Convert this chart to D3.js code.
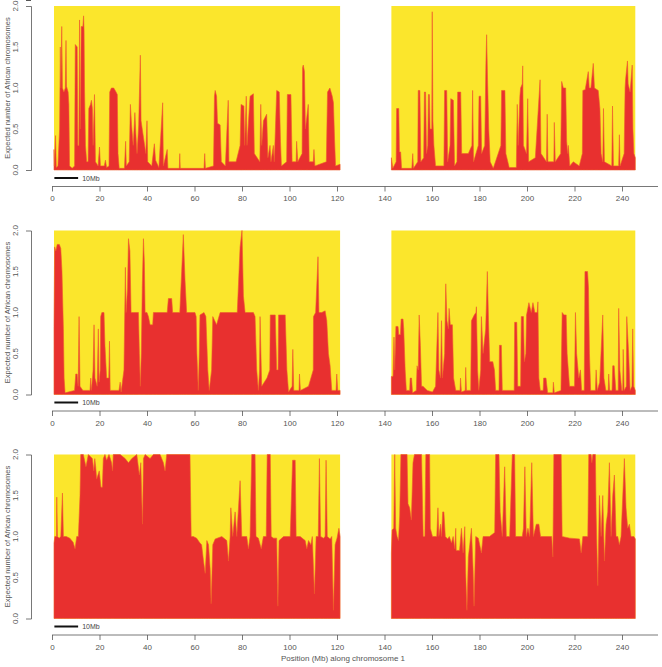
<!DOCTYPE html>
<html>
<head>
<meta charset="utf-8">
<script src="https://cdn.jsdelivr.net/npm/d3@7"></script>
<style>
  body { margin: 0; background: #fff; }
  text { font-family: "Liberation Sans", Arial, sans-serif; fill: #444; }
</style>
</head>
<body>
<script>
// chromosome arms (Mb) covered by data
var armLeft = [0.84, 121.3],
    armRight = [142.9, 245.6];

var xTicks = [0, 20, 40, 60, 80, 100, 120, 140, 160, 180, 200, 220, 240];
var yTicks = [0, 0.5, 1.0, 1.5, 2.0];

// [position Mb, expected number of African chromosomes]
var panel1Left = [[0.84,0.25],[1.0,0.05],[1.5,0.42],[1.8,0.03],[2.5,0.05],[3.2,0.5],[3.5,1.5],[3.7,1.0],[4.1,1.75],[4.4,1.0],[5.0,0.95],[5.6,1.0],[5.9,1.58],[6.1,1.02],[6.8,0.95],[7.1,0.8],[7.4,0.05],[8.5,0.02],[9.5,0.05],[9.8,1.53],[10.6,1.5],[10.9,0.3],[11.3,0.3],[11.6,1.83],[11.9,0.5],[12.3,1.75],[13.0,1.75],[13.3,1.88],[13.5,1.7],[13.7,1.0],[14.1,0.3],[14.6,0.1],[15.2,0.1],[15.5,0.75],[16.2,0.8],[16.6,0.85],[17.0,0.75],[17.3,0.3],[17.9,0.92],[18.3,0.1],[19.4,0.05],[20.0,0.28],[20.4,0.05],[22.0,0.05],[22.5,0.12],[23.0,0.03],[24.0,0.05],[24.3,0.95],[25.0,1.0],[26.0,1.0],[26.8,0.96],[27.5,0.92],[27.8,0.2],[28.3,0.02],[30.5,0.02],[31.0,0.35],[31.3,0.05],[32.5,0.1],[33.0,0.8],[33.5,0.55],[34.2,0.3],[34.9,0.7],[35.3,0.45],[35.8,0.2],[36.5,0.55],[37.2,1.4],[37.5,0.6],[38.0,0.5],[38.5,0.4],[39.5,0.2],[40.0,0.6],[40.3,0.1],[42.0,0.05],[43.1,0.32],[43.6,0.12],[45.0,0.03],[46.6,0.82],[46.9,0.05],[48.5,0.25],[48.8,0.02],[53.6,0.02],[53.8,0.2],[54.0,0.02],[64.0,0.02],[64.3,0.2],[64.6,0.02],[68.0,0.05],[68.4,0.9],[68.7,0.97],[69.3,0.9],[69.7,0.57],[70.8,0.55],[71.3,0.1],[73.0,0.05],[74.2,0.85],[74.5,0.1],[77.5,0.1],[79.2,0.3],[79.6,0.8],[80.8,0.78],[81.1,0.3],[81.8,0.9],[82.1,0.3],[83.4,0.9],[84.8,0.93],[85.2,0.2],[87.5,0.1],[87.9,0.8],[88.3,0.3],[89.0,0.6],[90.4,0.68],[90.9,0.15],[91.8,0.3],[92.2,0.1],[93.2,0.3],[93.6,0.1],[94.6,0.97],[95.7,0.95],[96.2,0.35],[96.6,0.05],[98.8,0.1],[99.1,0.92],[100.6,0.92],[101.1,0.1],[102.8,0.1],[103.0,0.35],[103.5,0.1],[105.3,0.2],[105.5,1.25],[105.8,1.28],[106.3,1.2],[106.7,0.5],[107.9,0.8],[108.3,0.1],[110.0,0.1],[110.3,0.25],[110.7,0.05],[115.5,0.1],[116.0,0.95],[117.0,1.0],[118.0,0.9],[118.5,0.82],[119.0,0.35],[119.4,0.05],[121.3,0.07]];

var panel1Right = [[142.9,0.15],[143.5,0.02],[144.9,0.1],[145.1,0.75],[146.0,0.75],[146.3,0.22],[146.8,0.22],[147.2,0.02],[151.5,0.02],[151.9,0.2],[152.2,0.02],[154.0,0.1],[154.2,0.97],[154.9,0.97],[155.3,0.1],[156.5,0.15],[156.8,0.95],[157.3,0.95],[157.7,0.2],[158.2,0.3],[158.5,0.92],[158.9,0.92],[159.2,0.5],[159.9,0.5],[160.1,1.93],[160.4,0.6],[160.8,0.3],[161.5,0.05],[165.0,0.05],[165.3,0.97],[166.2,0.97],[166.6,0.1],[167.6,0.3],[167.9,0.87],[169.0,0.85],[169.5,0.05],[170.5,0.1],[170.8,0.95],[172.1,0.95],[172.5,0.2],[175.3,0.2],[176.8,0.3],[177.1,0.97],[177.5,0.1],[179.5,0.3],[179.8,0.9],[180.5,0.9],[180.9,0.2],[182.2,0.3],[182.7,1.3],[183.0,1.65],[183.4,1.1],[183.9,0.5],[184.5,0.1],[185.8,0.02],[189.0,0.3],[189.3,0.97],[190.7,0.97],[191.1,0.2],[192.5,0.03],[195.5,0.03],[195.9,0.8],[196.3,0.3],[197.0,0.9],[197.3,1.0],[198.0,1.05],[198.2,1.27],[198.5,0.3],[199.8,0.2],[200.3,0.87],[200.7,0.1],[203.5,0.15],[205.5,1.1],[205.9,0.2],[208.2,0.1],[208.5,0.68],[208.8,0.1],[211.3,0.1],[211.5,0.58],[211.9,0.1],[214.2,0.2],[214.6,1.08],[215.3,1.0],[216.3,1.0],[216.7,0.35],[217.1,0.2],[217.4,0.3],[218.0,0.05],[219.5,0.1],[222.0,0.05],[223.3,0.2],[223.5,0.97],[224.5,0.98],[225.8,1.2],[226.2,1.0],[226.9,1.0],[227.9,1.3],[228.4,1.0],[230.0,0.97],[230.7,0.75],[231.2,0.2],[231.9,0.1],[232.2,0.75],[232.6,0.1],[235.7,0.05],[236.0,0.78],[236.4,0.05],[238.6,0.05],[238.9,0.43],[239.2,0.05],[240.9,0.2],[241.3,1.0],[241.5,1.1],[242.3,1.33],[242.6,1.05],[243.4,0.95],[244.3,1.28],[244.6,0.5],[245.0,0.2],[245.6,0.15]];

var panel2Left = [[0.84,0.83],[1.1,1.8],[1.6,1.75],[2.2,1.83],[3.1,1.83],[3.7,1.78],[4.2,1.5],[4.8,0.8],[5.1,0.2],[5.5,0.02],[9.5,0.05],[10.0,0.25],[10.6,0.25],[11.0,0.1],[11.4,0.95],[11.8,0.1],[13.0,0.05],[16.0,0.05],[16.3,0.2],[16.6,0.05],[17.3,0.3],[17.7,0.85],[18.1,0.2],[19.0,0.1],[19.5,0.8],[19.8,0.15],[20.3,0.3],[20.5,0.95],[21.0,1.0],[21.9,1.0],[22.3,0.6],[23.0,0.2],[23.9,0.2],[24.2,0.65],[24.5,0.05],[28.2,0.05],[28.7,0.15],[29.1,0.03],[30.3,0.3],[30.9,1.55],[31.2,1.0],[31.8,1.3],[32.2,1.9],[32.8,1.75],[33.3,1.0],[34.3,1.0],[36.4,1.0],[36.8,0.5],[37.2,0.1],[37.6,0.5],[38.0,1.3],[38.5,1.9],[38.9,1.6],[39.2,1.0],[40.0,1.0],[40.6,0.95],[41.3,0.85],[42.4,0.85],[42.7,1.0],[44.0,1.0],[48.5,1.0],[49.0,1.17],[50.4,1.17],[50.8,1.0],[53.8,1.0],[54.6,1.5],[55.3,1.95],[56.0,1.4],[56.7,1.0],[58.2,1.0],[60.2,1.0],[60.7,0.95],[61.0,0.5],[61.6,0.05],[62.0,0.5],[62.3,0.97],[64.0,1.0],[64.8,0.95],[65.6,0.3],[66.2,0.05],[67.2,0.3],[67.7,0.95],[69.3,0.85],[70.8,1.0],[76.5,1.0],[78.0,1.0],[79.2,1.8],[80.0,2.0],[80.6,1.2],[81.3,1.0],[84.8,1.0],[85.5,0.95],[86.2,0.3],[86.9,0.05],[87.4,0.3],[87.6,0.95],[88.3,0.1],[90.5,0.2],[91.7,0.3],[91.9,0.97],[94.0,0.97],[94.6,0.3],[95.2,0.3],[95.4,0.97],[98.2,0.97],[98.9,0.3],[99.6,0.03],[101.1,0.1],[101.4,0.55],[101.8,0.05],[104.0,0.05],[104.2,0.25],[104.6,0.05],[108.0,0.1],[110.0,0.3],[110.1,0.95],[111.0,1.0],[112.0,1.68],[112.4,1.0],[113.6,1.0],[115.0,1.02],[115.7,0.9],[116.4,0.5],[117.1,0.35],[117.8,0.05],[119.6,0.05],[119.9,0.25],[120.3,0.05],[121.3,0.05]];

var panel2Right = [[142.9,0.22],[143.6,0.22],[144.0,0.7],[144.3,0.3],[144.8,0.83],[145.7,0.83],[146.0,0.73],[146.7,0.73],[147.0,0.92],[147.8,0.92],[148.1,0.8],[148.7,0.3],[149.2,0.05],[150.6,0.05],[150.8,0.2],[151.4,0.2],[151.8,0.02],[153.4,0.05],[153.7,0.35],[154.2,0.3],[154.6,0.97],[155.1,0.6],[155.6,0.1],[156.2,0.1],[158.0,0.05],[160.2,0.03],[161.5,0.1],[162.5,1.0],[162.9,0.3],[163.6,0.2],[164.0,0.9],[164.4,0.2],[165.3,0.5],[165.8,1.35],[166.3,0.9],[166.9,0.8],[167.2,1.05],[167.7,0.85],[168.6,0.85],[169.1,0.2],[170.0,0.05],[171.8,0.05],[172.0,0.2],[172.4,0.03],[174.0,0.05],[174.2,0.33],[174.5,0.05],[176.3,0.05],[176.6,0.9],[177.8,0.97],[178.5,1.0],[178.7,1.07],[179.2,0.3],[179.7,0.05],[180.5,0.3],[180.8,0.95],[181.5,0.5],[182.6,0.8],[183.3,1.5],[183.8,0.9],[184.3,0.4],[185.6,0.4],[186.3,0.3],[186.8,0.05],[188.2,0.05],[188.4,0.6],[189.2,0.6],[189.6,0.05],[194.6,0.05],[194.8,0.88],[195.7,0.88],[196.1,0.1],[197.3,0.1],[197.6,0.95],[198.5,0.95],[198.9,0.4],[199.5,0.5],[199.8,0.97],[200.8,1.12],[201.8,1.0],[202.5,1.12],[203.3,1.0],[204.3,1.0],[204.6,1.13],[205.0,0.2],[205.6,0.05],[206.8,0.05],[207.0,0.2],[208.0,0.2],[208.7,0.02],[210.9,0.02],[211.1,0.15],[211.5,0.02],[214.3,0.05],[214.8,1.0],[215.6,0.97],[216.5,0.97],[216.9,0.5],[217.9,0.1],[220.0,0.1],[220.4,1.0],[220.9,0.5],[221.8,0.2],[222.5,0.3],[223.0,0.05],[224.1,0.05],[224.4,1.5],[225.5,1.5],[225.9,1.3],[226.3,0.5],[226.8,0.05],[228.8,0.05],[229.1,0.3],[229.6,0.05],[230.6,0.15],[231.9,0.97],[232.4,0.2],[233.2,0.05],[234.2,0.05],[234.4,0.25],[234.8,0.05],[235.8,0.05],[236.1,0.35],[236.7,0.35],[237.4,0.05],[238.4,0.05],[238.6,1.05],[239.1,0.3],[239.9,0.05],[240.3,0.05],[240.5,0.55],[240.9,0.05],[241.8,0.1],[242.0,0.95],[242.8,0.5],[243.4,0.05],[244.2,0.1],[244.5,0.8],[244.9,0.1],[245.6,0.05]];

var panel3Left = [[0.84,0.92],[1.2,1.0],[1.9,1.0],[2.0,1.48],[2.3,1.0],[3.0,0.98],[3.7,1.0],[4.4,1.53],[4.8,1.0],[6.0,1.0],[7.5,0.98],[8.9,0.93],[9.7,0.85],[10.4,1.0],[11.1,1.0],[11.8,1.5],[12.1,2.0],[13.2,2.0],[14.3,1.85],[15.3,2.0],[17.0,1.95],[17.6,1.8],[18.0,1.95],[18.4,1.85],[18.8,1.7],[19.9,1.8],[20.6,1.6],[21.2,1.6],[21.6,1.95],[22.3,2.0],[23.0,1.93],[24.0,2.0],[25.1,1.9],[25.5,1.8],[25.8,2.0],[28.7,2.0],[30.8,1.95],[32.2,1.9],[33.6,1.95],[35.7,2.0],[36.8,1.75],[37.4,1.9],[38.1,1.15],[38.5,1.95],[39.2,2.0],[41.3,1.95],[42.7,2.0],[45.5,2.0],[46.9,1.9],[47.6,1.8],[48.3,2.0],[58.1,2.0],[58.6,1.0],[59.5,1.0],[60.9,0.98],[62.3,0.92],[63.0,0.9],[63.8,0.7],[64.5,0.55],[65.2,0.95],[65.9,0.9],[66.6,0.6],[67.0,0.18],[67.7,0.9],[68.7,0.97],[71.5,1.0],[73.6,0.95],[74.3,0.7],[75.0,1.0],[75.3,1.35],[76.1,1.0],[77.1,1.3],[77.8,1.0],[79.2,1.68],[79.9,1.0],[82.0,1.0],[82.7,0.85],[83.4,1.0],[84.1,2.0],[85.5,2.0],[85.9,1.0],[86.9,0.98],[88.1,0.85],[89.0,1.0],[90.2,1.0],[90.6,2.0],[91.9,2.0],[92.3,1.0],[93.3,0.98],[94.6,0.98],[95.1,0.15],[95.6,0.95],[97.5,1.0],[100.3,1.0],[101.3,1.93],[102.4,1.93],[102.8,1.0],[104.5,1.0],[106.6,0.95],[107.3,0.85],[108.0,0.95],[109.0,0.9],[109.6,1.0],[110.5,0.3],[111.2,1.0],[112.1,1.0],[112.6,1.95],[113.1,1.0],[114.3,0.98],[115.0,1.0],[115.4,1.93],[115.9,1.0],[117.1,0.97],[117.8,1.0],[118.5,0.1],[119.2,0.9],[120.0,0.98],[120.8,1.1],[121.3,1.0]];

var panel3Right = [[142.9,0.8],[143.2,1.08],[143.9,1.1],[144.3,2.0],[144.7,1.1],[145.3,1.0],[145.9,0.95],[146.4,1.25],[146.9,2.0],[149.5,2.0],[149.9,1.4],[150.6,1.35],[151.3,1.2],[152.0,1.9],[152.6,2.0],[155.6,2.0],[156.0,1.4],[156.3,1.0],[157.0,1.0],[157.4,2.0],[159.0,2.0],[159.3,1.1],[160.2,1.0],[162.0,1.0],[162.5,1.35],[162.9,1.0],[163.6,1.15],[164.0,1.0],[164.5,1.3],[165.0,1.3],[165.6,1.0],[166.6,0.97],[167.3,1.0],[168.2,0.92],[168.9,1.0],[169.6,0.85],[170.0,1.1],[170.2,0.83],[171.6,0.83],[172.4,1.1],[173.1,0.8],[173.8,1.12],[174.2,0.55],[174.7,0.1],[175.3,0.75],[175.9,0.9],[176.6,1.1],[177.3,0.6],[177.7,0.15],[178.4,1.0],[179.5,0.98],[180.8,0.8],[181.5,1.0],[184.2,1.0],[186.4,1.05],[186.8,2.0],[188.2,2.0],[188.7,1.3],[189.6,1.0],[190.6,1.85],[191.3,1.0],[192.7,1.0],[193.8,2.0],[194.8,2.0],[195.2,1.0],[198.0,1.0],[198.5,1.1],[199.1,1.85],[199.7,1.0],[200.4,1.1],[201.1,1.0],[202.0,1.9],[202.7,1.0],[203.9,1.15],[205.0,1.15],[205.7,1.0],[210.4,1.0],[210.9,0.75],[211.3,2.0],[214.4,2.0],[214.8,1.0],[218.0,0.98],[222.1,0.97],[222.8,0.8],[223.5,1.0],[225.6,1.0],[226.0,2.0],[227.0,2.0],[227.3,1.9],[227.7,2.0],[228.8,2.0],[229.1,1.3],[229.8,0.4],[230.5,1.5],[231.2,1.0],[231.9,1.5],[232.6,0.7],[233.3,1.15],[234.0,1.3],[234.7,1.9],[235.4,1.0],[236.1,1.5],[236.8,1.75],[237.5,1.0],[238.2,1.0],[238.9,0.9],[239.6,1.0],[241.0,1.95],[241.7,1.35],[242.4,1.1],[243.1,1.15],[243.8,1.0],[245.0,1.0],[245.6,0.97]];

var panels = [[panel1Left, panel1Right], [panel2Left, panel2Right], [panel3Left, panel3Right]];

var width = 662, height = 667;
var panelTops = [6, 230.5, 454.5];
var plotH = 164;

var svg = d3.select("body").append("svg")
    .attr("width", width)
    .attr("height", height);

var x = d3.scaleLinear().domain([0, 240]).range([52, 622]);

panels.forEach(function(arms, i){
    var top = panelTops[i];
    var y = d3.scaleLinear().domain([0, 2]).range([top + plotH, top]);
    var g = svg.append("g");

    // yellow background per arm
    [armLeft, armRight].forEach(function(arm){
        g.append("rect")
            .attr("x", x(arm[0]))
            .attr("y", y(2))
            .attr("width", x(arm[1]) - x(arm[0]))
            .attr("height", y(0) - y(2))
            .attr("fill", "#fbe62c");
    });

    var area = d3.area()
        .x(function(d){ return x(d[0]); })
        .y0(y(0))
        .y1(function(d){ return y(d[1]); });

    arms.forEach(function(arm){
        g.append("path")
            .datum(arm)
            .attr("d", area)
            .attr("fill", "#e8302f")
            .attr("stroke", "#ee5a2c")
            .attr("stroke-width", 0.6)
            .attr("stroke-linejoin", "miter");
    });

    // y axis
    var yAxis = d3.axisLeft(y).tickValues(yTicks).tickSize(5).tickFormat(d3.format(".1f"));
    var ya = g.append("g").attr("transform", "translate(31,0)").call(yAxis);
    ya.select(".domain").attr("stroke", "#555").attr("stroke-width", 0.8);
    ya.selectAll(".tick line").attr("stroke", "#555").attr("stroke-width", 0.8);
    ya.selectAll(".tick text")
        .attr("transform", function(d){ return "rotate(-90)"; })
        .attr("x", function(d){ return -y(d); })
        .attr("y", -13)
        .attr("dy", 0)
        .attr("text-anchor", "middle")
        .style("font-size", "8px")
        .style("fill", "#555");
    ya.selectAll(".tick").attr("transform", null);

    g.append("text")
        .attr("transform", "translate(10," + (top + plotH / 2) + ") rotate(-90)")
        .attr("text-anchor", "middle")
        .style("font-size", "7.5px")
        .style("fill", "#555")
        .text("Expected number of African chromosomes");

    // 10Mb scale bar
    var barY = top + plotH + 8;
    g.append("line")
        .attr("x1", x(1)).attr("x2", x(11))
        .attr("y1", barY).attr("y2", barY)
        .attr("stroke", "#111").attr("stroke-width", 2);
    g.append("text")
        .attr("x", x(11) + 4).attr("y", barY + 2.5)
        .style("font-size", "7px")
        .style("fill", "#444")
        .text("10Mb");

    // x axis
    var axisY = top + plotH + 16.5;
    g.append("line")
        .attr("x1", x(0)).attr("x2", 658)
        .attr("y1", axisY).attr("y2", axisY)
        .attr("stroke", "#555").attr("stroke-width", 0.8);
    var xAxis = d3.axisBottom(x).tickValues(xTicks).tickSize(5).tickPadding(4);
    var xa = g.append("g").attr("transform", "translate(0," + axisY + ")").call(xAxis);
    xa.select(".domain").remove();
    xa.selectAll(".tick line").attr("stroke", "#555").attr("stroke-width", 0.8);
    xa.selectAll(".tick text").style("font-size", "8px").style("fill", "#555");
});

svg.append("text")
    .attr("x", 343).attr("y", 661)
    .attr("text-anchor", "middle")
    .style("font-size", "8px")
    .style("fill", "#555")
    .text("Position (Mb) along chromosome 1");
</script>
</body>
</html>
